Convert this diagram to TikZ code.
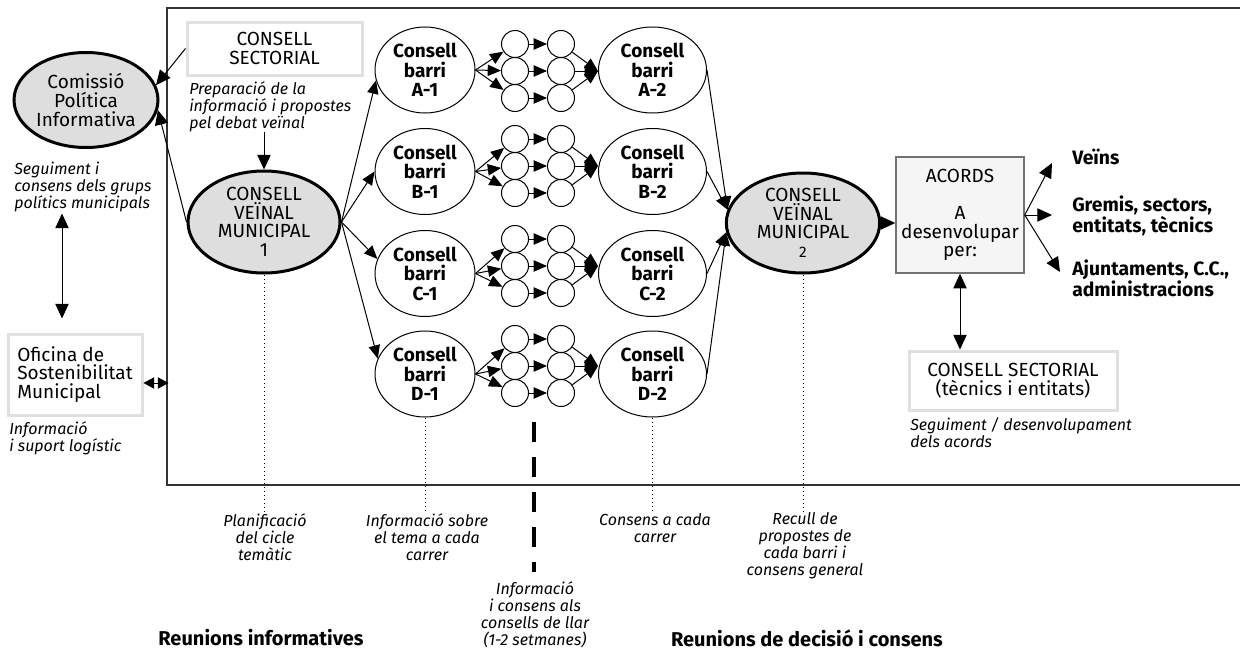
\documentclass[tikz,border=0pt]{standalone}
\usepackage{fontspec}
\setmainfont{Fira Sans}
\usetikzlibrary{shapes.geometric,arrows.meta,calc}

\newcommand\fmain{\fontsize{14.25}{13.9}\selectfont}
\newcommand\fbarri{\fontsize{14.25}{14.6}\selectfont\bfseries}
\newcommand\fnote{\fontsize{12}{12.75}\selectfont\itshape}
\newcommand\flab{\fontsize{14.5}{14.25}\selectfont\bfseries}
\newcommand\fhead{\fontsize{15}{15}\selectfont\bfseries}

\begin{document}
\begin{tikzpicture}[x=0.75pt,y=0.75pt,yscale=-1,xscale=1,
  gellip/.style={ellipse,draw,line width=2.25pt,fill=black!13,align=center,font=\fmain,inner sep=0pt},
  barri/.style={ellipse,draw,line width=0.75pt,align=center,font=\fbarri,inner sep=0pt,minimum width=75pt,minimum height=64.5pt},
  dot/.style={circle,draw,line width=0.75pt,minimum size=20.25pt,inner sep=0pt},
  gbox/.style={draw=black!12,line width=2.25pt,fill=white,align=center,font=\fmain,inner sep=0pt},
  note/.style={font=\fnote,align=left,inner sep=0pt},
  conn/.style={line width=0.75pt},
  tip/.style={-{Triangle[length=10pt,width=8.5pt]}},
  btip/.style={-{Triangle[length=11pt,width=10pt]}},
  dtip/.style={{Triangle[length=11pt,width=10pt]}-{Triangle[length=11pt,width=10pt]}},
  stip/.style={{Triangle[length=8pt,width=8.5pt]}-{Triangle[length=8pt,width=8.5pt]}},
  dots/.style={line width=0.75pt,dash pattern=on 0.75pt off 2.25pt}
]
\useasboundingbox (0,0) rectangle (1240,653);

% frame
\draw[line width=1pt,black!80] (1240,8) -- (167,8) -- (167,485) -- (1240,485);

% left column
\node[gellip,minimum width=108pt,minimum height=71.25pt] (cpi) at (86,100) {Comissió\\Política\\Informativa};
\node[note,anchor=west] (segu) at (14,187) {Seguiment i\\consens dels grups\\polítics municipals};
\node[gbox,minimum width=100.5pt,minimum height=60.75pt,align=left] (osm) at (75,374.5) {Oficina de\\Sostenibilitat\\Municipal};
\node[note,anchor=west] (osmn) at (9,438) {Informació\\i suport logístic};

% consell sectorial and consell veinal 1
\node[gbox,minimum width=131.25pt,minimum height=39.75pt] (cs1) at (274.5,48.5) {CONSELL\\SECTORIAL};
\node[note,anchor=west] (prep) at (189,107) {Preparació de la\\informació i propostes\\pel debat veïnal};
\node[gellip,minimum width=114pt,minimum height=76.5pt] (cvm1) at (264,222) {CONSELL\\VEÏNAL\\MUNICIPAL\\1};

% consells de barri
\foreach \nm/\lt/\yb/\yc in {a/A/70/71,b/B/171.5/166,c/C/273.5/266,d/D/374/366}{
  \node[barri] (\nm1) at (425,\yb) {Consell\\barri\\\lt-1};
  \node[barri,minimum width=81pt] (\nm2) at (652.5,\yb) {Consell\\barri\\\lt-2};
  \foreach \k/\dy in {1/-27,2/0,3/27}{
    \node[dot] (\nm p\k) at (515,\yc+\dy) {};
    \node[dot] (\nm q\k) at (561,\yc+\dy) {};
  }
  \foreach \k in {1,2,3}{
    \draw[conn,tip] (\nm1.east) -- (\nm p\k);
    \draw[conn,tip] (\nm p\k) -- (\nm q\k);
    \draw[conn,tip] (\nm q\k) -- (\nm q2 -| \nm2.west);
  }
}

% consell veinal 2 and acords
\node[gellip,minimum width=115pt,minimum height=75pt] (cvm2) at (803,223) {CONSELL\\VEÏNAL\\MUNICIPAL\\{\fontsize{11.5}{11.5}\selectfont 2}};
\node[draw=black!55,line width=1.1pt,fill=black!4,minimum width=96pt,minimum height=87pt,align=center,font=\fmain,inner sep=0pt] (acords) at (960,215) {ACORDS\\[13.9pt]A\\desenvolupar\\per:};
\node[font=\flab,anchor=west,align=left,inner sep=0pt] (veins) at (1072,157) {Veïns};
\node[font=\flab,anchor=west,align=left,inner sep=0pt] (grem) at (1072,216) {Gremis, sectors,\\entitats, tècnics};
\node[font=\flab,anchor=west,align=left,inner sep=0pt] (ajun) at (1072,278) {Ajuntaments, C.C.,\\administracions};
\node[gbox,minimum width=156pt,minimum height=44.25pt] (cs2) at (1013,380.5) {CONSELL SECTORIAL\\(tècnics i entitats)};
\node[note,anchor=west] (segd) at (910,433) {Seguiment / desenvolupament\\dels acords};

% notes under the frame
\node[note,align=center] (plan) at (265,537) {Planificació\\del cicle\\temàtic};
\node[note,align=center] (infs) at (427,537) {Informació sobre\\el tema a cada\\carrer};
\node[note,align=center] (cons) at (655,528) {Consens a cada\\carrer};
\node[note,align=center] (recu) at (805,546) {Recull de\\propostes de\\cada barri i\\consens general};
\node[note,align=center] (llar) at (535,615) {Informació\\i consens als\\consells de llar\\(1-2 setmanes)};
\node[font=\fhead] (rinf) at (261,638) {Reunions informatives};
\node[font=\fhead] (rdec) at (807,638) {Reunions de decisió i consens};

% arrows
\draw[conn,btip] (cs1.west) -- (cpi.12);
\draw[conn,btip] (cvm1.west) -- (cpi.-8);
\draw[conn,btip] (prep.south -| cvm1.north) -- (cvm1.north);
\draw[conn,dtip] ($(osm.north)+(-13,-119)$) -- ($(osm.north)+(-13,-14)$);
\draw[conn,stip] ($(osm.east)+(0,8.5)$) -- ++(25,0);
\draw[conn,tip] (cvm1.east) -- (a1.192);
\draw[conn,tip] (cvm1.east) -- (b1.180);
\draw[conn,tip] (cvm1.east) -- (c1.163);
\draw[conn,tip] (cvm1.east) -- (d1.162);
\draw[conn,tip] (a2.east) -- (cvm2.170);
\draw[conn,tip] (b2.east) -- (cvm2.170);
\draw[conn,tip] (c2.east) -- (cvm2.187);
\draw[conn,tip] (d2.east) -- (cvm2.187);
\draw[conn,btip] (cvm2.east) -- (cvm2.east -| acords.west);
\draw[conn,btip] (acords.east) -- ($(veins.west)+(-20,6)$);
\draw[conn,btip,shorten >=15pt] (acords.east) -- (acords.east -| grem.west);
\draw[conn,btip] (acords.east) -- ($(ajun.west)+(-12,-6)$);
\draw[conn,dtip] (acords.south) -- (acords.south |- cs2.north);

% dotted guides and separator
\draw[dots] (cvm1.south) -- (cvm1.south |- plan.north);
\draw[dots] (d1.south) -- (d1.south |- infs.north);
\draw[dots] (d2.south) -- (d2.south |- cons.north);
\draw[dots] (cvm2.south) -- (cvm2.south |- recu.north);
\draw[line width=3.4pt,dash pattern=on 15pt off 11.25pt] (534,422) -- (534,572);

\end{tikzpicture}
\end{document}
